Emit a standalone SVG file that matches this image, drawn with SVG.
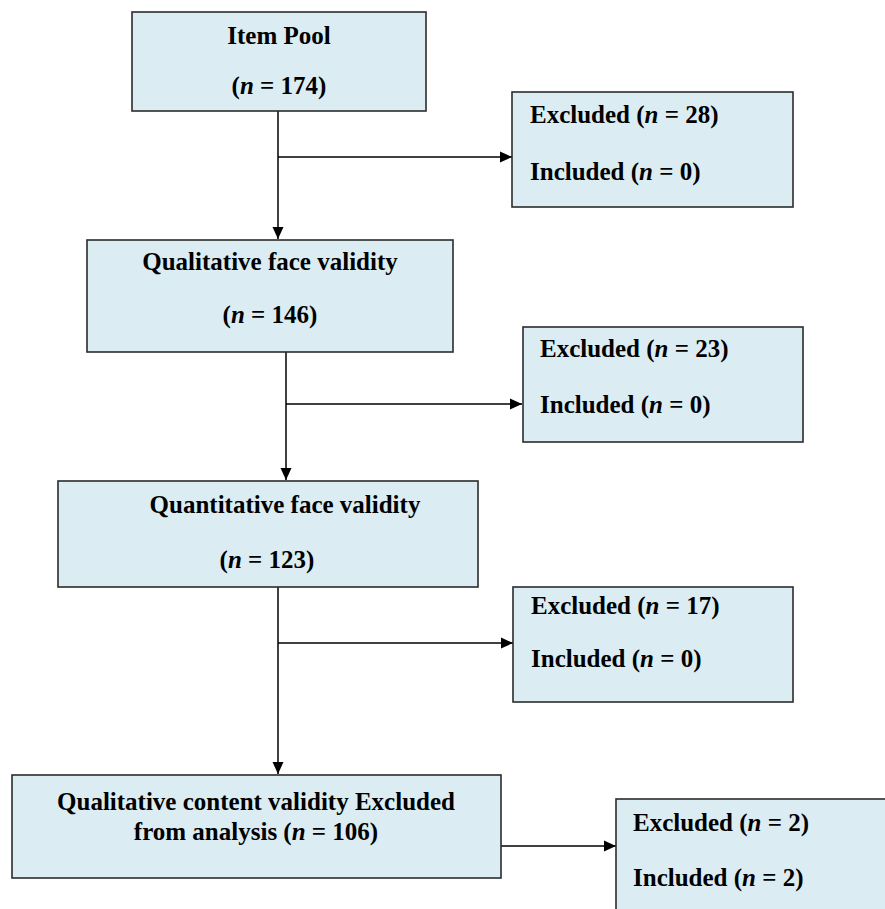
<svg xmlns="http://www.w3.org/2000/svg" width="885" height="909" viewBox="0 0 885 909">
<style>
.box{fill:#dbedf3;stroke:#2b2b2b;stroke-width:1.6}
.t{font-family:"Liberation Serif","Times New Roman",serif;font-weight:bold;font-size:25px;fill:#000}
.c{text-anchor:middle}
.ln{fill:none;stroke:#000;stroke-width:1.5}
</style>
<defs>
<marker id="ah" markerUnits="userSpaceOnUse" markerWidth="14" markerHeight="14" viewBox="0 0 14 14" refX="13" refY="7" orient="auto">
<path d="M1,1.5 L13,7 L1,12.5 Z" fill="#000"/>
</marker>
</defs>
<rect width="885" height="909" fill="#fff"/>
<g id="connectors">
<path class="ln" d="M278,111 V239" marker-end="url(#ah)"/>
<path class="ln" d="M278,157 H512" marker-end="url(#ah)"/>
<path class="ln" d="M286,352 V480" marker-end="url(#ah)"/>
<path class="ln" d="M286,404 H522" marker-end="url(#ah)"/>
<path class="ln" d="M278,587 V774" marker-end="url(#ah)"/>
<path class="ln" d="M278,643 H513" marker-end="url(#ah)"/>
<path class="ln" d="M501,846 H616" marker-end="url(#ah)"/>
</g>
<g id="item-pool">
<rect class="box" x="132" y="12" width="294" height="99"/>
<text class="t c" x="279" y="44">Item Pool</text>
<text class="t c" x="279" y="94">(<tspan font-style="italic">n</tspan> = 174)</text>
</g>
<g id="excluded-1">
<rect class="box" x="512" y="92" width="281" height="115"/>
<text class="t" x="530" y="123">Excluded (<tspan font-style="italic">n</tspan> = 28)</text>
<text class="t" x="530" y="180">Included (<tspan font-style="italic">n</tspan> = 0)</text>
</g>
<g id="qual-face">
<rect class="box" x="87" y="240" width="366" height="112"/>
<text class="t c" x="270" y="270">Qualitative face validity</text>
<text class="t c" x="270" y="323">(<tspan font-style="italic">n</tspan> = 146)</text>
</g>
<g id="excluded-2">
<rect class="box" x="523" y="327" width="280" height="115"/>
<text class="t" x="540" y="357">Excluded (<tspan font-style="italic">n</tspan> = 23)</text>
<text class="t" x="540" y="413">Included (<tspan font-style="italic">n</tspan> = 0)</text>
</g>
<g id="quant-face">
<rect class="box" x="58" y="481" width="420" height="106"/>
<text class="t c" x="285" y="513">Quantitative face validity</text>
<text class="t c" x="267" y="568">(<tspan font-style="italic">n</tspan> = 123)</text>
</g>
<g id="excluded-3">
<rect class="box" x="513" y="587" width="280" height="115"/>
<text class="t" x="531" y="614">Excluded (<tspan font-style="italic">n</tspan> = 17)</text>
<text class="t" x="531" y="667">Included (<tspan font-style="italic">n</tspan> = 0)</text>
</g>
<g id="qual-content">
<rect class="box" x="12" y="775" width="489" height="103"/>
<text class="t c" x="256" y="810">Qualitative content validity Excluded</text>
<text class="t c" x="256" y="840">from analysis (<tspan font-style="italic">n</tspan> = 106)</text>
</g>
<g id="excluded-4">
<rect class="box" x="616" y="799" width="280" height="120"/>
<text class="t" x="633" y="831">Excluded (<tspan font-style="italic">n</tspan> = 2)</text>
<text class="t" x="633" y="886">Included (<tspan font-style="italic">n</tspan> = 2)</text>
</g>
</svg>
